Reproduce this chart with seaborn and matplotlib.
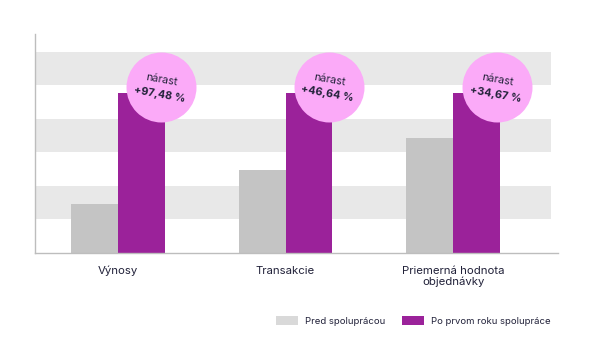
import matplotlib
matplotlib.use("Agg")
import matplotlib.pyplot as plt
import seaborn as sns
import pandas as pd
from matplotlib.patches import Patch

# Data
categories = ["Výnosy", "Transakcie", "Priemerná hodnota\nobjednávky"]
series_names = ["Pred spoluprácou", "Po prvom roku spolupráce"]
before_values = [1.46, 2.48, 3.42]
after_values = [4.78, 4.78, 4.78]
growth_labels = ["+97,48 %", "+46,64 %", "+34,67 %"]
band_rows = [1, 3, 5]

GRAY = "#c4c4c4"
PURPLE = "#9b229a"
PINK = "#fbaaf8"
BAND = "#e8e8e8"
TEXT = "#22223a"

df = pd.DataFrame({
    "kategoria": categories * 2,
    "obdobie": [series_names[0]] * 3 + [series_names[1]] * 3,
    "hodnota": before_values + after_values,
})

sns.set_theme(style="white")
plt.rcParams["font.family"] = ["Inter", "DejaVu Sans"]

fig = plt.figure(figsize=(6, 3.5), dpi=100)
ax = fig.add_axes([35 / 600, 1 - 252.7 / 350, 523 / 600, (252.7 - 34) / 350])

# alternating background bands
for r in band_rows:
    ax.axhspan(r, r + 1, xmin=0, xmax=516 / 523, color=BAND, lw=0, zorder=0)

sns.barplot(data=df, x="kategoria", y="hodnota", hue="obdobie",
            palette=[GRAY, PURPLE], width=0.56, saturation=1,
            legend=False, ax=ax, zorder=2, linewidth=0)

ax.set_xlim(-0.493, 2.624)
ax.set_ylim(0, 6.54)
ax.set_yticks([])
ax.set_xlabel("")
ax.set_ylabel("")
ax.tick_params(axis="x", length=0, pad=9.5, labelsize=8.2, labelcolor=TEXT)
for t in ax.get_xticklabels():
    t.set_linespacing(1.05)

for side in ["top", "right"]:
    ax.spines[side].set_visible(False)
for side in ["left", "bottom"]:
    ax.spines[side].set_color("#bdbdbd")
    ax.spines[side].set_linewidth(1)

# growth badges next to the "after" bars
for i, (val, lab) in enumerate(zip(after_values, growth_labels)):
    bx = i + 0.2 + 0.06
    by = val + 0.17
    ax.scatter([bx], [by], s=(70 * 0.72) ** 2, color=PINK, zorder=3,
               linewidths=0, clip_on=False)
    ax.annotate("nárast", (bx, by), xytext=(0.3, 5.0), textcoords="offset points",
                ha="center", va="center", rotation=-10, rotation_mode="anchor",
                fontsize=7.8, color=TEXT, zorder=4)
    ax.annotate(lab, (bx, by), xytext=(-1.3, -5.0), textcoords="offset points",
                ha="center", va="center", rotation=-10, rotation_mode="anchor",
                fontsize=7.8, fontweight="bold", color=TEXT, zorder=4)

# legend
handles = [Patch(facecolor="#d9d9d9", edgecolor="none"),
           Patch(facecolor=PURPLE, edgecolor="none")]
fig.legend(handles, series_names, loc="center left",
           bbox_to_anchor=(271 / 600, 1 - 321 / 350), ncol=2, frameon=False,
           fontsize=6.85, handlelength=2.3, handleheight=1.15, handletextpad=0.75,
           columnspacing=1.8, borderpad=0, labelcolor=TEXT)

fig.savefig("out.png", dpi=100, facecolor="white")
